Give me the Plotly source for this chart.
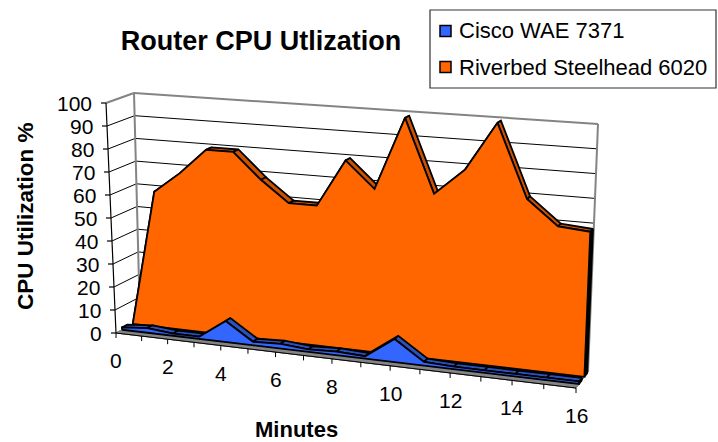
import plotly.graph_objects as go

minutes = list(range(17))
cisco = [1, 2, 1, 1, 9, 1.5, 2, 1, 1.5, 1, 9.5, 1.5, 1, 1, 1, 1, 1]
riverbed = [0, 59, 68, 79, 79, 68, 59, 59, 79, 68, 98.5, 68, 79, 99, 69, 59, 58]
series_names = ["Cisco WAE 7371", "Riverbed Steelhead 6020"]
y_ticks = list(range(0, 101, 10))
x_tick_labels = [str(m) for m in range(0, 17, 2)]

W, H = 718, 442
# box corners (minute end, value end, depth end) in screen space
FBL, FBR, FTL, FTR = (116, 333), (576, 388), (106, 103), (586.5, 133)
BBL, BBR, BTL, BTR = (140, 320), (588, 372), (134, 93), (598, 124)
C = 1.13
CISCO_W = (0.25, 0.47)
RIVER_W = (0.70, 0.93)


def lerp(a, b, t):
    return (a[0] + (b[0] - a[0]) * t, a[1] + (b[1] - a[1]) * t)


def P(m, v, w):
    t = m / 16
    u = t / (t + C * (1 - t))
    fb, ft = lerp(FBL, FBR, u), lerp(FTL, FTR, u)
    bb, bt = lerp(BBL, BBR, u), lerp(BTL, BTR, u)
    return lerp(lerp(fb, ft, v / 100), lerp(bb, bt, v / 100), w)


fig = go.Figure()


def poly(pts, fill, line="black", width=1.8):
    xs = [p[0] for p in pts] + [pts[0][0]]
    ys = [p[1] for p in pts] + [pts[0][1]]
    fig.add_trace(go.Scatter(x=xs, y=ys, mode="lines", fill="toself", fillcolor=fill,
                             line=dict(color=line, width=width), showlegend=False, hoverinfo="skip"))


def seg(a, b, color="black", width=1.0):
    fig.add_trace(go.Scatter(x=[a[0], b[0]], y=[a[1], b[1]], mode="lines",
                             line=dict(color=color, width=width), showlegend=False, hoverinfo="skip"))


# gridlines on walls
for v in y_ticks[1:-1]:
    seg(P(0, v, 0), P(0, v, 1))
    seg(P(0, v, 1), P(16, v, 1))
GRAY = "#848484"
# wall edges
seg(P(0, 100, 0), P(0, 100, 1), GRAY, 2)
seg(P(0, 100, 1), P(16, 100, 1), GRAY, 2)
seg(P(0, 0, 1), P(0, 100, 1), GRAY, 2)
seg(P(16, 0, 1), P(16, 100, 1), GRAY, 2)
# floor
poly([P(0, 0, 0), P(16, 0, 0), P(16, 0, 1), P(0, 0, 1)], "#555555", "#555555", 1)
poly([P(0, 0, 0), P(16, 0, 0), P(16, 0, 0.25), P(0, 0, 0.25)], GRAY, GRAY, 1)


def area(values, depth, face, top, cap):
    wf, wb = depth
    poly([P(16, 0, wf), P(16, values[-1], wf), P(16, values[-1], wb), P(16, 0, wb)], cap)
    for i in range(len(values) - 1):
        poly([P(minutes[i], values[i], wf), P(minutes[i + 1], values[i + 1], wf),
              P(minutes[i + 1], values[i + 1], wb), P(minutes[i], values[i], wb)], top)
    pts = [P(m, v, wf) for m, v in zip(minutes, values)]
    poly([P(0, 0, wf)] + pts + [P(16, 0, wf)], face)


area(riverbed, RIVER_W, "#ff6600", "#cc5200", "black")
area(cisco, CISCO_W, "#3366ff", "#2a52be", "#2a52be")

# axes
seg(P(0, 0, 0), P(0, 100, 0), "black", 1.2)
seg(P(0, 0, 0), P(16, 0, 0), "black", 1.0)
ann = []
for v in y_ticks:
    p = P(0, v, 0)
    seg((p[0] - 5, p[1]), p, "black", 1.2)
    ann.append(dict(x=p[0] - 12, y=p[1], text=str(v), xanchor="right", yanchor="middle", showarrow=False,
                    font=dict(size=21)))
for m in minutes:
    p = P(m, 0, 0)
    seg(p, (p[0], p[1] + 5), "black", 1.0)
for lab in x_tick_labels:
    p = P(int(lab), 0, 0)
    ann.append(dict(x=p[0], y=p[1] + 27.5, text=lab, xanchor="center", yanchor="middle", showarrow=False,
                    font=dict(size=21)))
ann.append(dict(x=25, y=216, text="<b>CPU Utilization %</b>", textangle=-90, showarrow=False,
                xanchor="center", yanchor="middle", font=dict(size=22.5)))
ann.append(dict(x=296, y=429, text="<b>Minutes</b>", showarrow=False, xanchor="center", yanchor="middle",
                font=dict(size=22)))

# legend entries (swatches are drawn as shapes at their exact place)
for name, grp in zip(series_names, ["a", "b"]):
    fig.add_trace(go.Scatter(x=[None], y=[None], mode="markers", name=name, legendgroup=grp,
                             marker=dict(symbol="square", size=2, color="rgba(0,0,0,0)")))

shapes = [dict(type="rect", x0=430, x1=716, y0=10, y1=88, line=dict(color="#333333", width=1.2), layer="below")]
for col, yc in zip(["#3366ff", "#ff6600"], [31, 67]):
    shapes.append(dict(type="rect", x0=440, x1=451, y0=yc - 5.5, y1=yc + 5.5, fillcolor=col,
                       line=dict(color="black", width=1.5), layer="above"))

for a in ann:
    a.update(xref="x", yref="y")
fig.update_layout(
    width=W, height=H, autosize=False, margin=dict(l=0, r=0, t=0, b=0),
    paper_bgcolor="white", plot_bgcolor="white",
    font=dict(family="Liberation Sans, Arial, sans-serif", color="black"),
    title=dict(text="<b>Router CPU Utlization</b>", x=261 / W, y=1 - 41 / H, xanchor="center", yanchor="middle",
               font=dict(size=27)),
    xaxis=dict(range=[0, W], visible=False, fixedrange=True),
    yaxis=dict(range=[H, 0], visible=False, fixedrange=True),
    legend=dict(x=419 / W, y=1 - 9 / H, xanchor="left", yanchor="top", bgcolor="rgba(0,0,0,0)",
                borderwidth=0, font=dict(size=22), tracegroupgap=5, itemwidth=30),
    annotations=ann, shapes=shapes, showlegend=True,
)
fig.write_html("out.html", config=dict(displayModeBar=False),
               post_script="document.body.style.margin='0';")
